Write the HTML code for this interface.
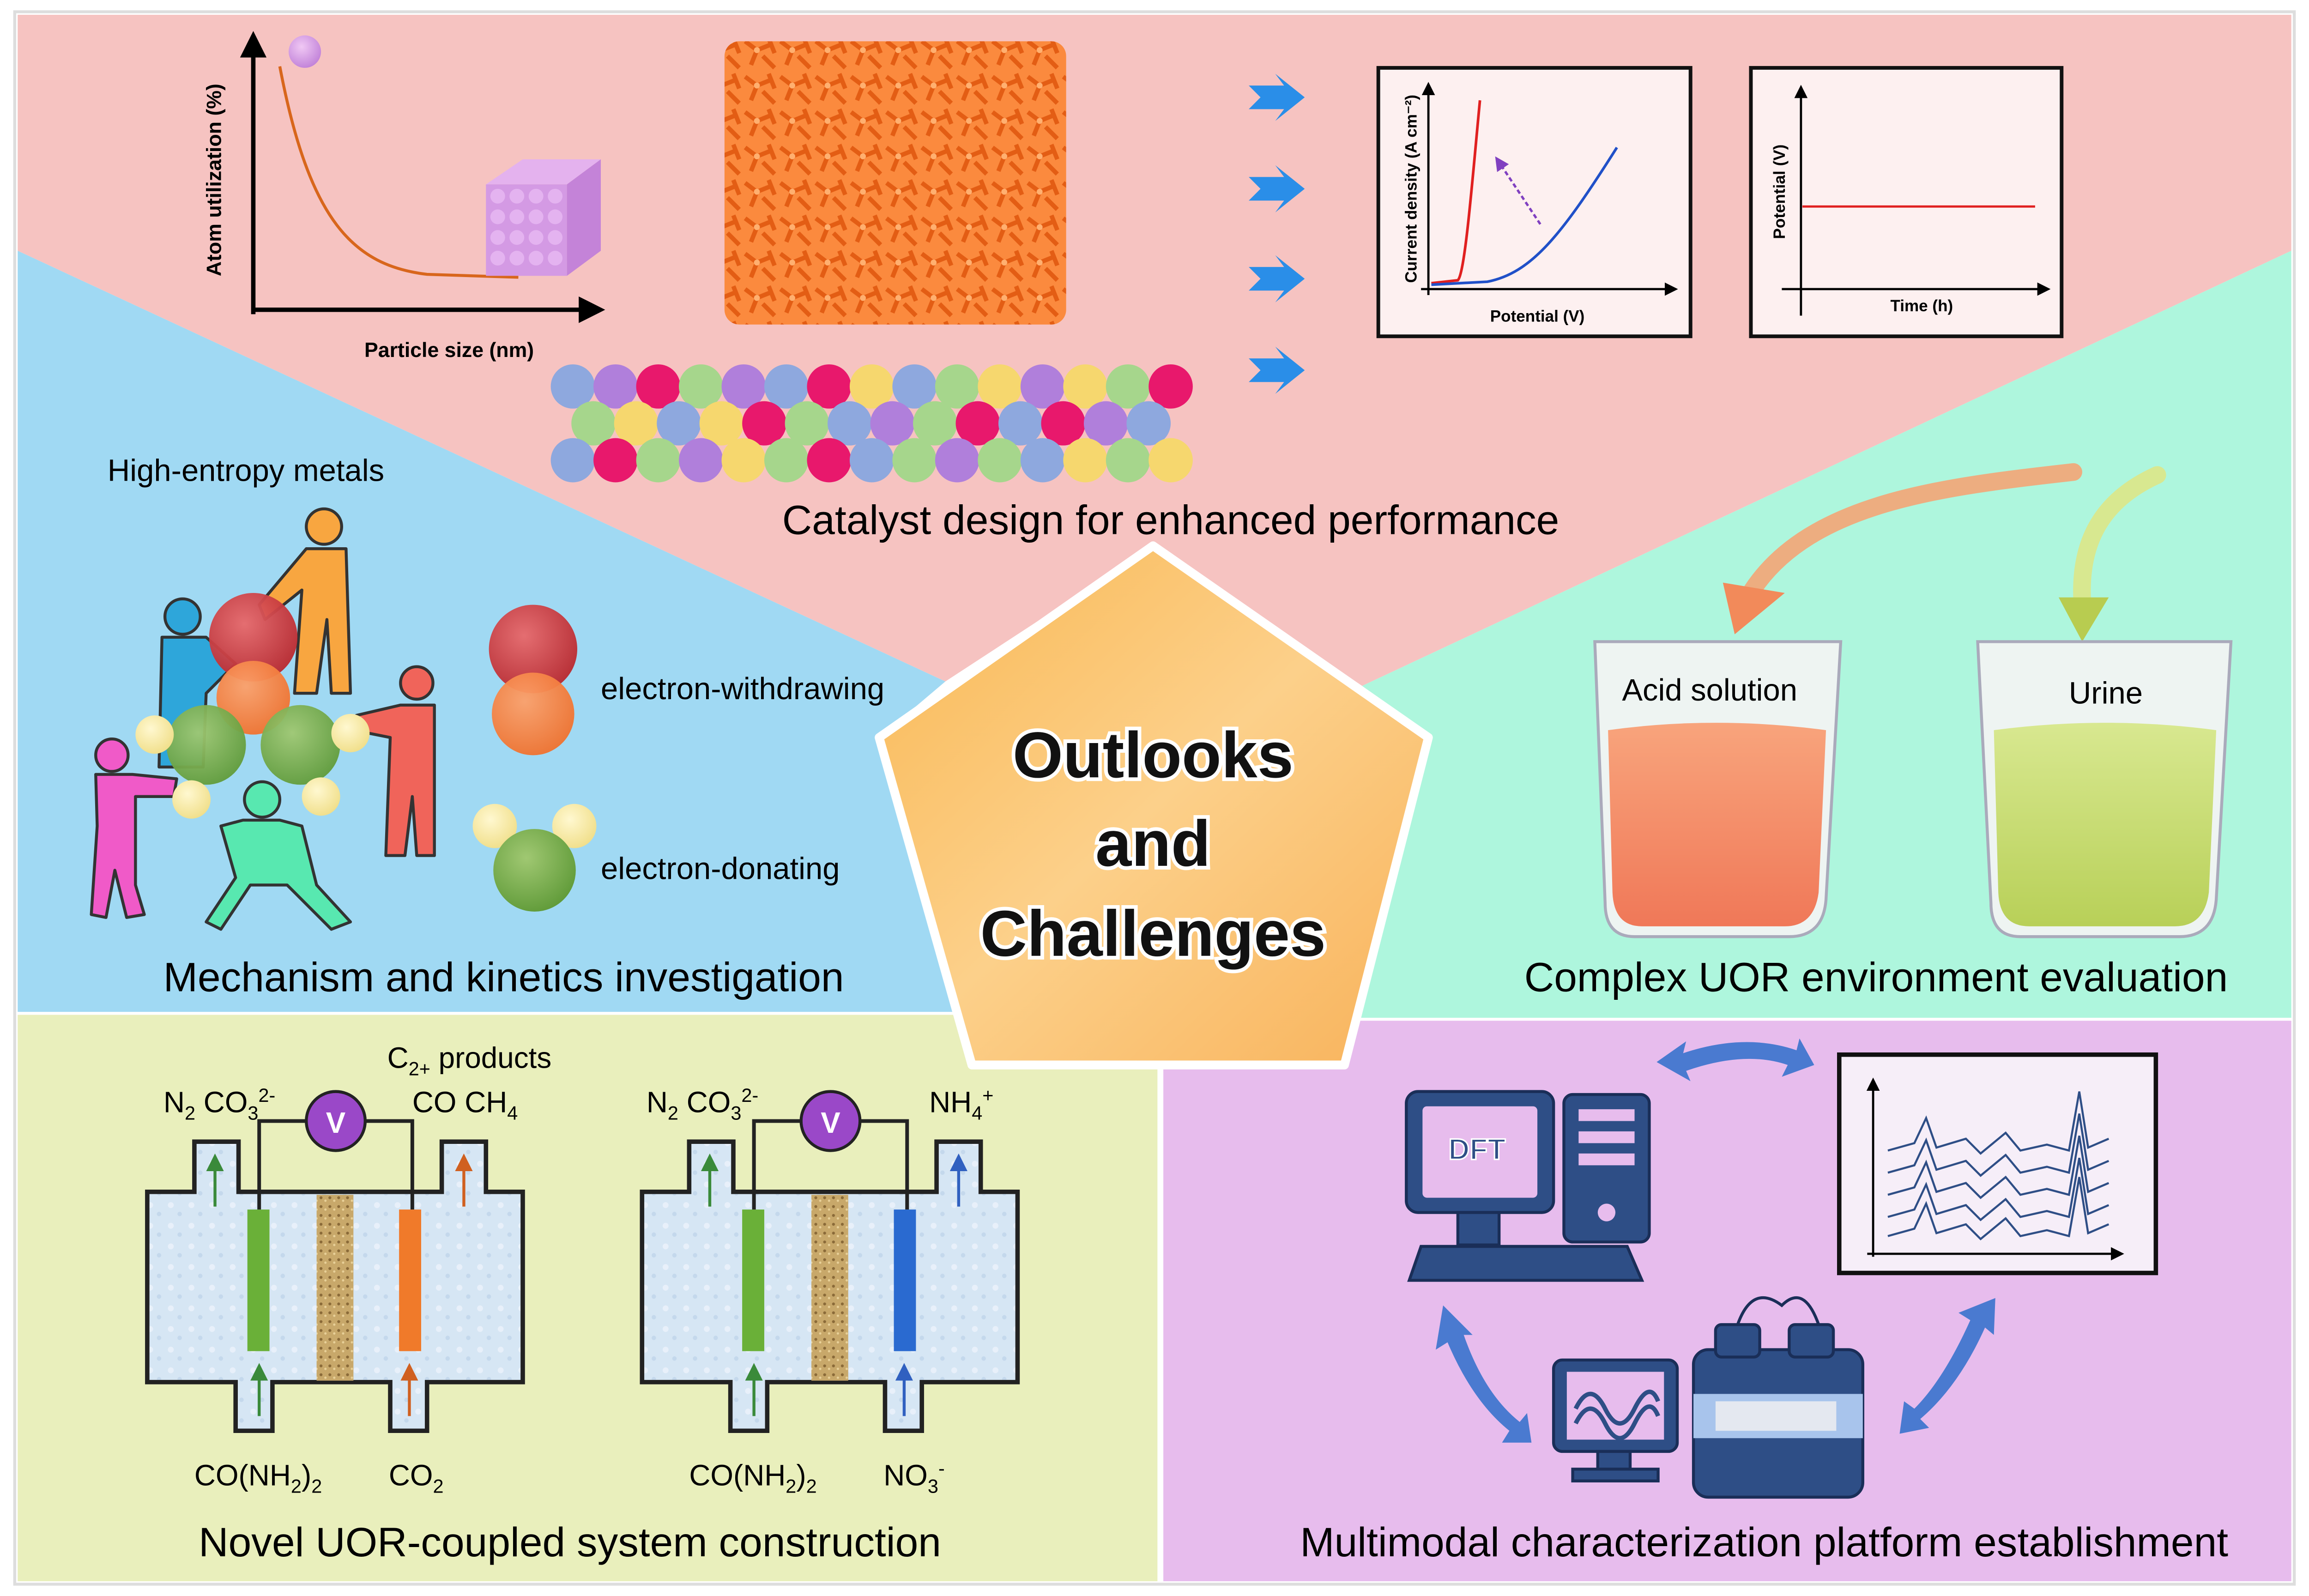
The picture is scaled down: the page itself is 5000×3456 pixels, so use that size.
<!DOCTYPE html>
<html><head><meta charset="utf-8"><style>html,body{margin:0;padding:0;background:#fff}svg{display:block}text{font-family:"Liberation Sans",sans-serif}</style></head><body>
<svg width="5000" height="3456" viewBox="0 0 1568 1082" preserveAspectRatio="none" xmlns="http://www.w3.org/2000/svg">
<defs>
<linearGradient id="pg" x1="0" y1="0" x2="1" y2="1"><stop offset="0" stop-color="#f9b752"/><stop offset="0.5" stop-color="#fcd08a"/><stop offset="1" stop-color="#f8b25a"/></linearGradient>
<radialGradient id="rs" cx="0.4" cy="0.35" r="0.7"><stop offset="0" stop-color="#e8686a"/><stop offset="1" stop-color="#b8262c"/></radialGradient>
<radialGradient id="os" cx="0.4" cy="0.35" r="0.7"><stop offset="0" stop-color="#fca06a"/><stop offset="1" stop-color="#f0702c"/></radialGradient>
<radialGradient id="gs" cx="0.4" cy="0.35" r="0.7"><stop offset="0" stop-color="#a0c872"/><stop offset="1" stop-color="#5f9a38"/></radialGradient>
<radialGradient id="ys" cx="0.4" cy="0.35" r="0.7"><stop offset="0" stop-color="#fff8d0"/><stop offset="1" stop-color="#f0de88"/></radialGradient>
<radialGradient id="ps" cx="0.4" cy="0.35" r="0.7"><stop offset="0" stop-color="#f0c8f4"/><stop offset="1" stop-color="#c080d8"/></radialGradient>
<linearGradient id="acid" x1="0" y1="0" x2="0" y2="1"><stop offset="0" stop-color="#f8a47c"/><stop offset="1" stop-color="#f07858"/></linearGradient>
<linearGradient id="urine" x1="0" y1="0" x2="0" y2="1"><stop offset="0" stop-color="#d8e890"/><stop offset="1" stop-color="#b8d058"/></linearGradient>
<pattern id="foam" width="24" height="24" patternUnits="userSpaceOnUse"><rect width="24" height="24" fill="#fb8a3e"/><path d="M2 4 L10 10 L6 20 M10 10 L20 6 M14 14 L22 22 M18 2 L22 12" stroke="#e35d14" stroke-width="3" fill="none"/><circle cx="10" cy="10" r="2" fill="#ffb070"/></pattern>
<pattern id="sand" width="6" height="6" patternUnits="userSpaceOnUse"><rect width="6" height="6" fill="#c8a86a"/><circle cx="2" cy="2" r="1" fill="#8a6a38"/><circle cx="5" cy="4" r="0.8" fill="#e8d098"/></pattern>
<pattern id="water" width="14" height="14" patternUnits="userSpaceOnUse"><rect width="14" height="14" fill="#d6e6f4"/><circle cx="4" cy="5" r="2" fill="#e8f0fa"/><circle cx="10" cy="11" r="1.5" fill="#c4d8ec"/></pattern>
<marker id="ah" markerWidth="6" markerHeight="6" refX="3" refY="3" orient="auto"><path d="M0 0L6 3L0 6z" fill="context-stroke"/></marker>
</defs>
<rect width="1568" height="1082" fill="#fff"/>
<polygon points="12,10 1556,10 1556,170 925,465 783,370 642,462 12,170" fill="#f6c3c1"/>
<polygon points="12,170 642,462 597,500 655,686 12,686" fill="#a0d9f3"/>
<polygon points="1556,170 925,465 970,500 908,690 1556,690" fill="#aef6dd"/>
<rect x="12" y="688" width="774" height="384" fill="#e9efbc"/>
<rect x="790" y="692" width="766" height="380" fill="#e7bced"/>
<rect x="10" y="8" width="1548" height="1066" fill="none" stroke="#ddd" stroke-width="2"/>

<line x1="172" y1="213" x2="172" y2="30" stroke="#000" stroke-width="3" marker-end="url(#ah)"/>
<line x1="172" y1="210" x2="402" y2="210" stroke="#000" stroke-width="3" marker-end="url(#ah)"/>
<path d="M190 45 C210 150 240 180 290 186 L352 188" stroke="#d8661c" stroke-width="2" fill="none"/>
<circle cx="207" cy="35" r="11" fill="url(#ps)"/>
<g>
<polygon points="330,125 355,108 408,108 385,125" fill="#e4b2ee"/>
<rect x="330" y="125" width="55" height="62" fill="#d49ae4"/>
<polygon points="385,125 408,108 408,170 385,187" fill="#c483d8"/>
<g fill="#e8baf4" opacity="0.8">
<circle cx="338" cy="133" r="5"/><circle cx="351" cy="133" r="5"/><circle cx="364" cy="133" r="5"/><circle cx="377" cy="133" r="5"/>
<circle cx="338" cy="147" r="5"/><circle cx="351" cy="147" r="5"/><circle cx="364" cy="147" r="5"/><circle cx="377" cy="147" r="5"/>
<circle cx="338" cy="161" r="5"/><circle cx="351" cy="161" r="5"/><circle cx="364" cy="161" r="5"/><circle cx="377" cy="161" r="5"/>
<circle cx="338" cy="175" r="5"/><circle cx="351" cy="175" r="5"/><circle cx="364" cy="175" r="5"/><circle cx="377" cy="175" r="5"/>
</g></g>
<text x="150" y="122" font-size="14" font-weight="bold" transform="rotate(-90 150 122)" text-anchor="middle">Atom utilization (%)</text>
<text x="305" y="242" font-size="14" font-weight="bold" text-anchor="middle">Particle size (nm)</text>

<rect x="492" y="28" width="232" height="192" rx="10" fill="url(#foam)"/>

<g>
<circle cx="389" cy="262" r="15" fill="#8ea8de"/><circle cx="418" cy="262" r="15" fill="#b07fdb"/><circle cx="447" cy="262" r="15" fill="#e8186c"/><circle cx="476" cy="262" r="15" fill="#a6d68c"/><circle cx="505" cy="262" r="15" fill="#b07fdb"/><circle cx="534" cy="262" r="15" fill="#8ea8de"/><circle cx="563" cy="262" r="15" fill="#e8186c"/><circle cx="592" cy="262" r="15" fill="#f6d76e"/><circle cx="621" cy="262" r="15" fill="#8ea8de"/><circle cx="650" cy="262" r="15" fill="#a6d68c"/><circle cx="679" cy="262" r="15" fill="#f6d76e"/><circle cx="708" cy="262" r="15" fill="#b07fdb"/><circle cx="737" cy="262" r="15" fill="#f6d76e"/><circle cx="766" cy="262" r="15" fill="#a6d68c"/><circle cx="795" cy="262" r="15" fill="#e8186c"/>
<circle cx="403" cy="287" r="15" fill="#a6d68c"/><circle cx="432" cy="287" r="15" fill="#f6d76e"/><circle cx="461" cy="287" r="15" fill="#8ea8de"/><circle cx="490" cy="287" r="15" fill="#f6d76e"/><circle cx="519" cy="287" r="15" fill="#e8186c"/><circle cx="548" cy="287" r="15" fill="#a6d68c"/><circle cx="577" cy="287" r="15" fill="#8ea8de"/><circle cx="606" cy="287" r="15" fill="#b07fdb"/><circle cx="635" cy="287" r="15" fill="#a6d68c"/><circle cx="664" cy="287" r="15" fill="#e8186c"/><circle cx="693" cy="287" r="15" fill="#8ea8de"/><circle cx="722" cy="287" r="15" fill="#e8186c"/><circle cx="751" cy="287" r="15" fill="#b07fdb"/><circle cx="780" cy="287" r="15" fill="#8ea8de"/>
<circle cx="389" cy="312" r="15" fill="#8ea8de"/><circle cx="418" cy="312" r="15" fill="#e8186c"/><circle cx="447" cy="312" r="15" fill="#a6d68c"/><circle cx="476" cy="312" r="15" fill="#b07fdb"/><circle cx="505" cy="312" r="15" fill="#f6d76e"/><circle cx="534" cy="312" r="15" fill="#a6d68c"/><circle cx="563" cy="312" r="15" fill="#e8186c"/><circle cx="592" cy="312" r="15" fill="#8ea8de"/><circle cx="621" cy="312" r="15" fill="#a6d68c"/><circle cx="650" cy="312" r="15" fill="#b07fdb"/><circle cx="679" cy="312" r="15" fill="#a6d68c"/><circle cx="708" cy="312" r="15" fill="#8ea8de"/><circle cx="737" cy="312" r="15" fill="#f6d76e"/><circle cx="766" cy="312" r="15" fill="#a6d68c"/><circle cx="795" cy="312" r="15" fill="#f6d76e"/>
</g>

<g fill="#2a8ee8">
<path d="M848 58 L872 58 L866 50 L886 66 L866 82 L872 74 L848 74 L856 66z"/>
<path d="M848 120 L872 120 L866 112 L886 128 L866 144 L872 136 L848 136 L856 128z"/>
<path d="M848 181 L872 181 L866 173 L886 189 L866 205 L872 197 L848 197 L856 189z"/>
<path d="M848 243 L872 243 L866 235 L886 251 L866 267 L872 259 L848 259 L856 251z"/>
</g>

<rect x="936" y="46" width="212" height="182" fill="#fdf0f0" stroke="#111" stroke-width="2.5"/>
<line x1="970" y1="200" x2="970" y2="60" stroke="#000" stroke-width="1.5" marker-end="url(#ah)"/>
<line x1="965" y1="196" x2="1135" y2="196" stroke="#000" stroke-width="1.5" marker-end="url(#ah)"/>
<path d="M972 192 L990 190 C995 185 1000 120 1005 68" stroke="#e02020" stroke-width="1.8" fill="none"/>
<path d="M972 193 L1010 191 C1040 185 1060 160 1098 100" stroke="#2050c8" stroke-width="1.8" fill="none"/>
<line x1="1046" y1="152" x2="1018" y2="110" stroke="#8040c0" stroke-width="1.6" stroke-dasharray="3,2" marker-end="url(#ah)"/>
<text x="962" y="128" font-size="11" font-weight="bold" transform="rotate(-90 962 128)" text-anchor="middle">Current density (A cm⁻²)</text>
<text x="1044" y="218" font-size="11" font-weight="bold" text-anchor="middle">Potential (V)</text>
<rect x="1189" y="46" width="211" height="182" fill="#fdf0f0" stroke="#111" stroke-width="2.5"/>
<line x1="1223" y1="214" x2="1223" y2="62" stroke="#000" stroke-width="1.5" marker-end="url(#ah)"/>
<line x1="1210" y1="196" x2="1388" y2="196" stroke="#000" stroke-width="1.5" marker-end="url(#ah)"/>
<line x1="1224" y1="140" x2="1382" y2="140" stroke="#e02020" stroke-width="1.5"/>
<text x="1212" y="130" font-size="11" font-weight="bold" transform="rotate(-90 1212 130)" text-anchor="middle">Potential (V)</text>
<text x="1305" y="211" font-size="11" font-weight="bold" text-anchor="middle">Time (h)</text>

<text x="795" y="362" font-size="28" text-anchor="middle">Catalyst design for enhanced performance</text>

<text x="167" y="326" font-size="21" text-anchor="middle">High-entropy metals</text>
<g stroke="#333" stroke-width="2" stroke-linejoin="round">
<circle cx="220" cy="357" r="12" fill="#f8a640"/><path d="M208 372 L235 372 L238 470 L225 470 L222 420 L215 470 L200 470 L205 400 L180 420 L176 410z" fill="#f8a640"/>
<circle cx="124" cy="418" r="12" fill="#2ea6da"/><path d="M110 432 L140 432 L160 450 L140 470 L138 520 L108 520z" fill="#2ea6da"/>
<circle cx="283" cy="463" r="11" fill="#f0645a"/><path d="M272 478 L295 478 L295 580 L283 580 L280 540 L275 580 L262 580 L265 500 L240 495 L242 485z" fill="#f0645a"/>
<circle cx="76" cy="512" r="11" fill="#f05ac8"/><path d="M65 525 L90 525 L120 528 L118 540 L92 540 L92 600 L98 620 L86 622 L78 590 L72 622 L62 620 L66 560z" fill="#f05ac8"/>
<circle cx="178" cy="542" r="12" fill="#58e8b0"/><path d="M150 560 L165 556 L190 556 L205 560 L215 600 L238 625 L225 630 L195 600 L170 600 L150 630 L140 625 L160 595z" fill="#58e8b0"/>
</g>
<circle cx="172" cy="432" r="30" fill="url(#rs)" opacity="0.95"/>
<circle cx="172" cy="473" r="25" fill="url(#os)" opacity="0.95"/>
<circle cx="140" cy="505" r="27" fill="url(#gs)" opacity="0.95"/>
<circle cx="204" cy="505" r="27" fill="url(#gs)" opacity="0.95"/>
<circle cx="105" cy="498" r="13" fill="url(#ys)"/><circle cx="130" cy="542" r="13" fill="url(#ys)"/><circle cx="218" cy="540" r="13" fill="url(#ys)"/><circle cx="238" cy="497" r="13" fill="url(#ys)"/>
<circle cx="362" cy="440" r="30" fill="url(#rs)" opacity="0.95"/>
<circle cx="362" cy="484" r="28" fill="url(#os)" opacity="0.95"/>
<circle cx="336" cy="560" r="15" fill="url(#ys)"/><circle cx="390" cy="560" r="15" fill="url(#ys)"/>
<circle cx="363" cy="590" r="28" fill="url(#gs)"/>
<text x="408" y="474" font-size="21">electron-withdrawing</text>
<text x="408" y="596" font-size="21">electron-donating</text>
<text x="342" y="672" font-size="28" text-anchor="middle">Mechanism and kinetics investigation</text>

<path d="M1408 320 C1320 330 1230 340 1190 400" stroke="#f8a070" stroke-width="12" fill="none" stroke-linecap="round" opacity="0.85"/>
<polygon points="1170,395 1212,402 1178,430" fill="#f28a5a"/>
<path d="M1465 322 C1425 340 1412 370 1414 408" stroke="#d8e890" stroke-width="12" fill="none" stroke-linecap="round"/>
<polygon points="1398,405 1432,405 1414,435" fill="#b8cc50"/>
<g>
<path d="M1083 435 L1250 435 L1240 610 Q1238 635 1215 635 L1110 635 Q1090 635 1090 612 Z" fill="#eef4f2" stroke="#aab" stroke-width="2"/>
<path d="M1092 495 Q1165 485 1240 495 L1235 605 Q1232 628 1212 628 L1115 628 Q1096 628 1095 605 Z" fill="url(#acid)"/>
<path d="M1343 435 L1515 435 L1505 610 Q1503 635 1480 635 L1372 635 Q1352 635 1352 612 Z" fill="#eef4f2" stroke="#aab" stroke-width="2"/>
<path d="M1354 495 Q1430 485 1505 495 L1500 605 Q1497 628 1477 628 L1378 628 Q1358 628 1357 605 Z" fill="url(#urine)"/>
</g>
<text x="1161" y="475" font-size="21" text-anchor="middle">Acid solution</text>
<text x="1430" y="477" font-size="21" text-anchor="middle">Urine</text>
<text x="1274" y="672" font-size="28" text-anchor="middle">Complex UOR environment evaluation</text>

<polygon points="783,370 970,500 913,722 660,722 597,500" fill="url(#pg)" stroke="#fff" stroke-width="6" stroke-linejoin="round"/>
<g font-size="44" font-weight="bold" text-anchor="middle" fill="#111" stroke="#fff" stroke-width="5" paint-order="stroke">
<text x="783" y="527">Outlooks</text>
<text x="783" y="587">and</text>
<text x="783" y="648">Challenges</text>
</g>

<g>
<path d="M100 808 L132 808 L132 774 L162 774 L162 808 L300 808 L300 774 L330 774 L330 808 L355 808 L355 937 L290 937 L290 970 L265 970 L265 937 L185 937 L185 970 L160 970 L160 937 L100 937 Z" fill="url(#water)" stroke="#222" stroke-width="3"/>
<rect x="215" y="810" width="25" height="126" fill="url(#sand)"/>
<rect x="168" y="820" width="15" height="96" fill="#6ab038"/>
<rect x="271" y="820" width="15" height="96" fill="#f07a2a"/>
<path d="M176 820 L176 760 L280 760 L280 820" stroke="#222" stroke-width="2.5" fill="none"/>
<circle cx="228" cy="760" r="20" fill="#9a48c8" stroke="#222" stroke-width="2"/>
<text x="228" y="768" font-size="20" font-weight="bold" fill="#fff" text-anchor="middle">V</text>
<line x1="146" y1="818" x2="146" y2="788" stroke="#3a8a3a" stroke-width="2" marker-end="url(#ah)"/>
<line x1="176" y1="960" x2="176" y2="930" stroke="#3a8a3a" stroke-width="2" marker-end="url(#ah)"/>
<line x1="315" y1="818" x2="315" y2="788" stroke="#d06020" stroke-width="2" marker-end="url(#ah)"/>
<line x1="278" y1="960" x2="278" y2="930" stroke="#d06020" stroke-width="2" marker-end="url(#ah)"/>
</g>
<g transform="translate(336,0)">
<path d="M100 808 L132 808 L132 774 L162 774 L162 808 L300 808 L300 774 L330 774 L330 808 L355 808 L355 937 L290 937 L290 970 L265 970 L265 937 L185 937 L185 970 L160 970 L160 937 L100 937 Z" fill="url(#water)" stroke="#222" stroke-width="3"/>
<rect x="215" y="810" width="25" height="126" fill="url(#sand)"/>
<rect x="168" y="820" width="15" height="96" fill="#6ab038"/>
<rect x="271" y="820" width="15" height="96" fill="#2a6ad0"/>
<path d="M176 820 L176 760 L280 760 L280 820" stroke="#222" stroke-width="2.5" fill="none"/>
<circle cx="228" cy="760" r="20" fill="#9a48c8" stroke="#222" stroke-width="2"/>
<text x="228" y="768" font-size="20" font-weight="bold" fill="#fff" text-anchor="middle">V</text>
<line x1="146" y1="818" x2="146" y2="788" stroke="#3a8a3a" stroke-width="2" marker-end="url(#ah)"/>
<line x1="176" y1="960" x2="176" y2="930" stroke="#3a8a3a" stroke-width="2" marker-end="url(#ah)"/>
<line x1="315" y1="818" x2="315" y2="788" stroke="#3060c0" stroke-width="2" marker-end="url(#ah)"/>
<line x1="278" y1="960" x2="278" y2="930" stroke="#3060c0" stroke-width="2" marker-end="url(#ah)"/>
</g>
<g font-size="20">
<text x="111" y="754">N<tspan font-size="13" dy="5">2</tspan><tspan dy="-5"> CO</tspan><tspan font-size="13" dy="5">3</tspan><tspan font-size="13" dy="-12">2-</tspan></text>
<text x="263" y="724">C<tspan font-size="13" dy="5">2+</tspan><tspan dy="-5"> products</tspan></text>
<text x="280" y="754">CO  CH<tspan font-size="13" dy="5">4</tspan></text>
<text x="132" y="1007">CO(NH<tspan font-size="13" dy="5">2</tspan><tspan dy="-5">)</tspan><tspan font-size="13" dy="5">2</tspan></text>
<text x="264" y="1007">CO<tspan font-size="13" dy="5">2</tspan></text>
<text x="439" y="754">N<tspan font-size="13" dy="5">2</tspan><tspan dy="-5"> CO</tspan><tspan font-size="13" dy="5">3</tspan><tspan font-size="13" dy="-12">2-</tspan></text>
<text x="631" y="754">NH<tspan font-size="13" dy="5">4</tspan><tspan font-size="13" dy="-12">+</tspan></text>
<text x="468" y="1007">CO(NH<tspan font-size="13" dy="5">2</tspan><tspan dy="-5">)</tspan><tspan font-size="13" dy="5">2</tspan></text>
<text x="600" y="1007">NO<tspan font-size="13" dy="5">3</tspan><tspan font-size="13" dy="-12">-</tspan></text>
</g>
<text x="387" y="1055" font-size="28" text-anchor="middle">Novel UOR-coupled system construction</text>

<g fill="#2e4e86" stroke="#1a2e58" stroke-width="2">
<rect x="955" y="740" width="100" height="82" rx="8"/>
<rect x="990" y="822" width="28" height="22"/>
<path d="M965 845 L1105 845 L1115 868 L957 868 Z"/>
<rect x="1062" y="742" width="58" height="100" rx="6"/>
</g>
<rect x="966" y="750" width="78" height="62" rx="3" fill="#e7bced"/>
<text x="1003" y="786" font-size="20" font-weight="bold" fill="#2e4e86" stroke="#fff" stroke-width="1" text-anchor="middle">DFT</text>
<g fill="#e7bced"><rect x="1072" y="752" width="38" height="8"/><rect x="1072" y="767" width="38" height="8"/><rect x="1072" y="782" width="38" height="8"/><circle cx="1091" cy="822" r="6"/></g>
<rect x="1249" y="715" width="215" height="148" fill="#f6eef8" stroke="#111" stroke-width="3"/>
<line x1="1272" y1="852" x2="1272" y2="735" stroke="#000" stroke-width="1.5" marker-end="url(#ah)"/>
<line x1="1268" y1="850" x2="1438" y2="850" stroke="#000" stroke-width="1.5" marker-end="url(#ah)"/>
<g stroke="#2e4e86" stroke-width="1.4" fill="none">
<path d="M1282 780 L1300 775 L1308 758 L1315 778 L1335 772 L1345 782 L1362 768 L1372 780 L1390 776 L1405 780 L1412 740 L1418 778 L1432 772"/>
<path d="M1282 795 L1300 790 L1308 773 L1315 793 L1335 787 L1345 797 L1362 783 L1372 795 L1390 791 L1405 795 L1412 755 L1418 793 L1432 787"/>
<path d="M1282 810 L1300 805 L1308 788 L1315 808 L1335 802 L1345 812 L1362 798 L1372 810 L1390 806 L1405 810 L1412 770 L1418 808 L1432 802"/>
<path d="M1282 825 L1300 820 L1308 803 L1315 823 L1335 817 L1345 827 L1362 813 L1372 825 L1390 821 L1405 825 L1412 785 L1418 823 L1432 817"/>
<path d="M1282 838 L1300 833 L1308 816 L1315 836 L1335 830 L1345 840 L1362 826 L1372 838 L1390 834 L1405 838 L1412 798 L1418 836 L1432 830"/>
</g>
<g fill="#2e4e86" stroke="#1a2e58" stroke-width="2">
<rect x="1055" y="922" width="84" height="62" rx="6"/>
<rect x="1085" y="984" width="22" height="12"/><rect x="1068" y="996" width="58" height="8"/>
<rect x="1150" y="915" width="115" height="100" rx="10"/>
<rect x="1165" y="898" width="30" height="22" rx="4"/><rect x="1215" y="898" width="30" height="22" rx="4"/>
</g>
<rect x="1064" y="930" width="66" height="46" fill="#e7bced"/>
<path d="M1070 955 Q1080 935 1090 955 T1110 955 T1126 950 M1070 965 Q1080 945 1090 965 T1110 965 T1126 960" stroke="#2e4e86" stroke-width="3" fill="none"/>
<rect x="1150" y="945" width="115" height="30" fill="#a8c4ec"/>
<rect x="1165" y="950" width="82" height="20" fill="#e4e8f0"/>
<path d="M1180 898 Q1190 870 1210 885 Q1225 870 1235 898" stroke="#1a2e58" stroke-width="2" fill="none"/>
<g fill="#4a7ad0">
<path d="M1125 720 L1145 706 L1143 714 Q1185 700 1220 712 L1222 704 L1232 722 L1210 730 L1214 722 Q1185 712 1145 726 L1148 733 Z"/>
<path d="M980 885 L975 915 L983 910 Q1000 950 1025 970 L1020 978 L1040 978 L1037 958 L1032 964 Q1008 945 994 905 L1000 905 Z"/>
<path d="M1355 880 L1330 890 L1338 895 Q1320 935 1300 955 L1293 950 L1290 972 L1310 968 L1304 962 Q1330 940 1348 900 L1354 905 Z"/>
</g>
<text x="1198" y="1055" font-size="28" text-anchor="middle">Multimodal characterization platform establishment</text>
</svg>
</body></html>
